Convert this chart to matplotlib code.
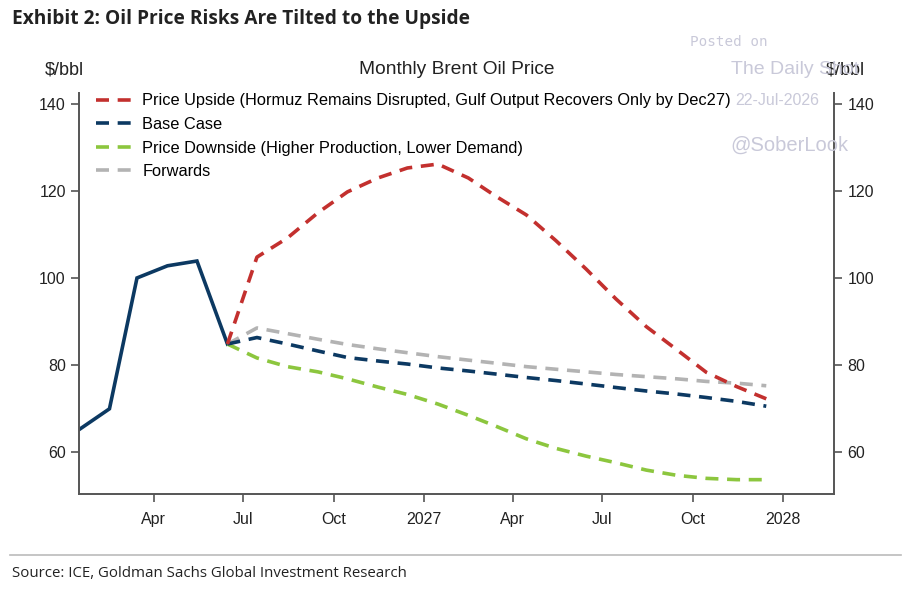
import numpy as np
import pandas as pd
import matplotlib
matplotlib.use("Agg")
import matplotlib.pyplot as plt

plt.rcParams['font.family'] = ['Liberation Sans', 'DejaVu Sans']

# monthly points, plotted mid-month
hist_dates = pd.date_range("2026-01-01", periods=6, freq="MS") + pd.Timedelta(days=14)
hist_vals = [65.1, 69.9, 100.0, 102.8, 103.9, 84.8]

fc_dates = pd.date_range("2026-06-01", periods=19, freq="MS") + pd.Timedelta(days=14)
upside = [84.8, 104.8, 109.2, 115.0, 119.8, 123.0, 125.3, 126.2, 123.0, 118.8,
          114.5, 108.6, 102.0, 95.2, 88.8, 83.5, 78.3, 75.0, 72.2]
base = [84.8, 86.3, 84.8, 83.2, 81.7, 80.9, 80.2, 79.3, 78.6, 77.9,
        77.1, 76.4, 75.6, 74.8, 74.0, 73.3, 72.5, 71.6, 70.5]
downside = [84.8, 81.6, 79.6, 78.4, 76.8, 74.9, 73.2, 71.0, 68.4, 65.9,
            63.0, 60.8, 59.0, 57.5, 55.8, 54.6, 53.9, 53.6, 53.6]
forwards = [84.8, 88.5, 87.2, 85.9, 84.7, 83.7, 82.8, 81.9, 81.1, 80.4,
            79.6, 79.0, 78.4, 77.8, 77.3, 76.8, 76.2, 75.8, 75.2]

labels = ["Price Upside (Hormuz Remains Disrupted, Gulf Output Recovers Only by Dec27)",
          "Base Case",
          "Price Downside (Higher Production, Lower Demand)",
          "Forwards"]
colors = ["#c3302e", "#0c3962", "#8cc63e", "#b3b3b3"]

tick_dates = pd.to_datetime(["2026-04-01", "2026-07-01", "2026-10-01", "2027-01-01",
                             "2027-04-01", "2027-07-01", "2027-10-01", "2028-01-01"])
tick_labels = ["Apr", "Jul", "Oct", "2027", "Apr", "Jul", "Oct", "2028"]

fig = plt.figure(figsize=(9.12, 5.9), dpi=100)
ax = fig.add_axes([0.0866, 0.1627, 0.828, 0.6793])

ax.plot(hist_dates, hist_vals, color="#0c3962", lw=2.6, solid_joinstyle="miter")
dash = (3.6, 2.4)
# draw forwards first so the others sit on top
order = [3, 2, 1, 0]
series = [upside, base, downside, forwards]
handles = {}
for i in order:
    ln, = ax.plot(fc_dates, series[i], color=colors[i], lw=2.6, dashes=dash, label=labels[i])
    handles[i] = ln

ax.set_xlim(pd.Timestamp("2026-01-15"), pd.Timestamp("2028-02-22"))
ax.set_ylim(50.3, 142.5)
ax.set_yticks([60, 80, 100, 120, 140])
ax.set_xticks(tick_dates)
ax.set_xticklabels(tick_labels)

for s in ["left", "right", "bottom"]:
    ax.spines[s].set_color("#555555")
    ax.spines[s].set_linewidth(1.4)
ax.spines["top"].set_visible(False)
ax.tick_params(axis="both", labelsize=11.5, color="#555555", width=1.2, length=6, labelcolor="#222222")
ax.tick_params(axis="x", pad=7)
ax.tick_params(axis="y", right=True, labelright=True)

leg = ax.legend([handles[i] for i in range(4)], labels, loc="upper left",
                bbox_to_anchor=(0.008, 1.028), frameon=False, fontsize=11.8,
                handlelength=2.2, handletextpad=0.6, labelspacing=0.52, borderaxespad=0.3)

ax.set_title("Monthly Brent Oil Price", fontsize=13.8, pad=14, color="#222222")
fig.text(0.071, 0.882, "$/bbl", fontsize=13, ha="center", va="center", color="#222222")
fig.text(0.927, 0.882, "$/bbl", fontsize=13, ha="center", va="center", color="#222222")

fig.text(0.013, 0.968, "Exhibit 2: Oil Price Risks Are Tilted to the Upside",
         fontsize=13.8, fontweight="bold", family="Open Sans", va="center", color="#222222")
fig.add_artist(plt.Line2D([0.011, 0.988], [0.06, 0.06], transform=fig.transFigure,
                          color="#bbbbbb", lw=1.2))
fig.text(0.013, 0.028, "Source: ICE, Goldman Sachs Global Investment Research",
         fontsize=10.8, family="Open Sans", va="center", color="#222222")

# watermark
wm = "#c9c9d9"
fig.text(0.757, 0.929, "Posted on", fontsize=10.3, family="DejaVu Sans Mono", color=wm, va="center")
fig.text(0.801, 0.883, "The Daily Shot", fontsize=14, color=wm, va="center")
fig.text(0.806, 0.829, "22-Jul-2026", fontsize=11.5, color=wm, va="center")
fig.text(0.801, 0.753, "@SoberLook", fontsize=14.5, color=wm, va="center")

fig.savefig("out.png", dpi=100)
